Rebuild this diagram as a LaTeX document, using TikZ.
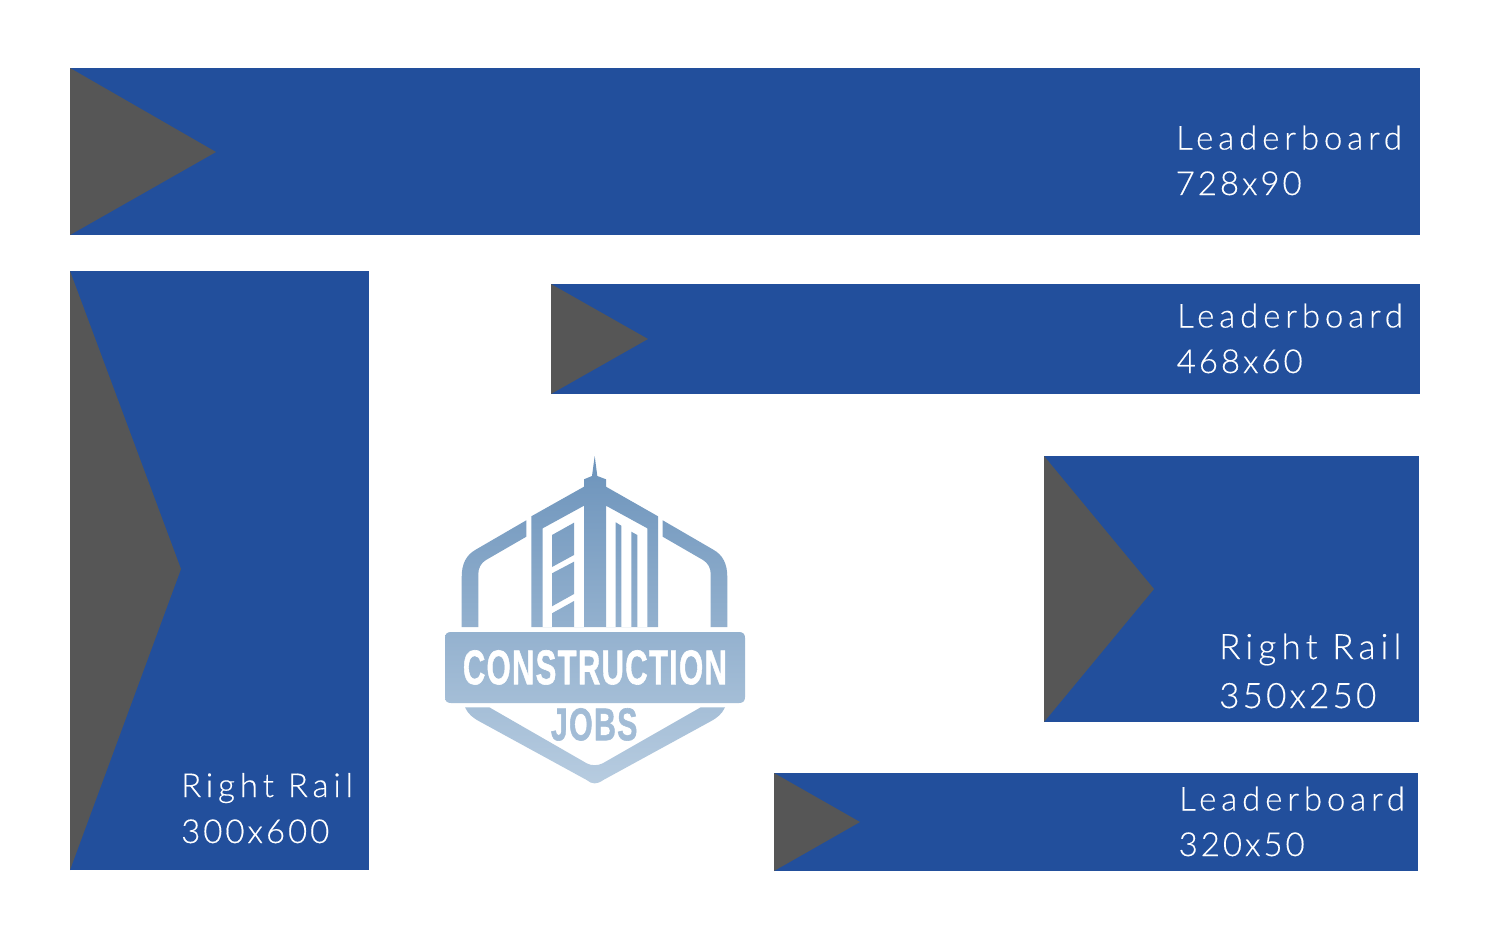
\documentclass[tikz,border=0pt]{standalone}
\usepackage{fontspec}
\usepackage{graphicx}
\newfontfamily\labfont[LetterSpace=14.8,FakeBold=0.35]{Lato Light}
\newfontfamily\numfont[LetterSpace=9,FakeBold=0.35]{Lato Light}
\newfontfamily\logofont[FakeBold=1.3,LetterSpace=4]{Liberation Sans}
\definecolor{adblue}{HTML}{224F9C}
\definecolor{adgray}{HTML}{565656}
\definecolor{logotop}{HTML}{6C93BB}
\definecolor{logobot}{HTML}{B7CCE0}
\definecolor{jobscol}{HTML}{A2BCD6}
\tikzset{
  adbox/.style={fill=adblue},
  adtri/.style={fill=adgray},
  lab/.style={anchor=base west,inner sep=0pt,text=white,font=\labfont\fontsize{33}{33}\selectfont},
  labbig/.style={lab,font=\labfont\fontsize{35}{35}\selectfont},
  num/.style={anchor=base west,inner sep=0pt,text=white,font=\numfont\fontsize{33}{33}\selectfont},
  numbig/.style={num,font=\numfont\fontsize{35}{35}\selectfont},
}
\begin{document}
\begin{tikzpicture}[x=1pt,y=-1pt]
\useasboundingbox (0,0) rectangle (1490,945);
\fill[white] (0,0) rectangle (1490,945);
% banners
\fill[adbox] (70,68) rectangle (1420,235);
\fill[adtri] (70,68) -- (216,152) -- (70,235) -- cycle;
\fill[adbox] (70,271) rectangle (369,870);
\fill[adtri] (70,271) -- (181,569) -- (70,870) -- cycle;
\fill[adbox] (551,284) rectangle (1420,394);
\fill[adtri] (551,284) -- (648,339) -- (551,394) -- cycle;
\fill[adbox] (1044,456) rectangle (1419,722);
\fill[adtri] (1044,456) -- (1154,589) -- (1044,722) -- cycle;
\fill[adbox] (774,773) rectangle (1418,871);
\fill[adtri] (774,773) -- (860,822) -- (774,871) -- cycle;
% labels
\node[lab] (a1) at (1176,149.5) {Leaderboard};
\node[num] (a2) at (1175.5,195) {728x90};
\node[lab] (b1) at (1177,327.5) {Leaderboard};
\node[num] (b2) at (1176.5,373) {468x60};
\node[lab] (c1) at (181,797) {Right Rail};
\node[num] (c2) at (181,843) {300x600};
\node[labbig] (d1) at (1219,659) {Right Rail};
\node[numbig] (d2) at (1219,708) {350x250};
\node[lab] (e1) at (1179,810.5) {Leaderboard};
\node[num] (e2) at (1178.5,856) {320x50};
% logo
\shade[even odd rule,top color=logotop,bottom color=logobot]
  % tower and building
  (594.7,456) -- (597.3,476) -- (606,479.3) -- (606,486.7) -- (658,516.3) -- (658,627)
  -- (531.3,627) -- (531.3,516.3) -- (584,486.7) -- (584,479.3) -- (592,476) -- cycle
  % left cut
  (542.7,528.3) -- (584,505.7) -- (584,627) -- (542.7,627) -- cycle
  % right cut
  (606,505.7) -- (647.3,528.3) -- (647.3,627) -- (606,627) -- cycle
  % windows
  (552,535) -- (574,522.7) -- (574,555) -- (552,567) -- cycle
  (552,573.3) -- (574,561.7) -- (574,594) -- (552,606.3) -- cycle
  (552,613.3) -- (574,601) -- (574,627) -- (552,627) -- cycle
  % strips
  (615.7,522.3) -- (621.3,525.7) -- (621.3,627) -- (615.7,627) -- cycle
  (631.3,531.7) -- (637.3,535) -- (637.3,627) -- (631.3,627) -- cycle
  % left wing
  (526.3,520.3) -- (526.3,536.7) -- (486,560) .. controls (481,563) and (478.3,568) .. (478.3,574)
  -- (478.3,627) -- (461.7,627) -- (461.7,577) .. controls (461.7,564) and (466,555) .. (476,549.5) -- cycle
  % right wing
  (662.7,520.3) -- (662.7,536.7) -- (703,560) .. controls (708,563) and (710.7,568) .. (710.7,574)
  -- (710.7,627) -- (727.3,627) -- (727.3,577) .. controls (727.3,564) and (723,555) .. (713,549.5) -- cycle
  % banner
  (451,632) -- (739,632) .. controls (743,632) and (745,634) .. (745,638) -- (745,697)
  .. controls (745,701) and (743,703) .. (739,703) -- (451,703)
  .. controls (447,703) and (445,701) .. (445,697) -- (445,638)
  .. controls (445,634) and (447,632) .. (451,632) -- cycle
  % lower chevron
  (465,707.3) -- (489.3,707.3) -- (586.7,763.3) .. controls (591,765.8) and (598,765.8) .. (602.7,763.3)
  -- (700.7,707.3) -- (725,707.3) .. controls (722,714) and (717,718) .. (710,721.7)
  -- (603.3,780) .. controls (597,784.5) and (592,784.5) .. (586.7,780)
  -- (480,721.7) .. controls (473,718) and (468,714) .. (465,707.3) -- cycle;
\node[inner sep=0pt,anchor=north west,text=white] (construction) at (462.7,650)
  {\resizebox{264pt}{34pt}{\logofont\bfseries CONSTRUCTION}};
\node[inner sep=0pt,anchor=north west,text=jobscol] (jobs) at (550.7,708)
  {\resizebox{86.6pt}{32pt}{\logofont\bfseries JOBS}};
\end{tikzpicture}
\end{document}
